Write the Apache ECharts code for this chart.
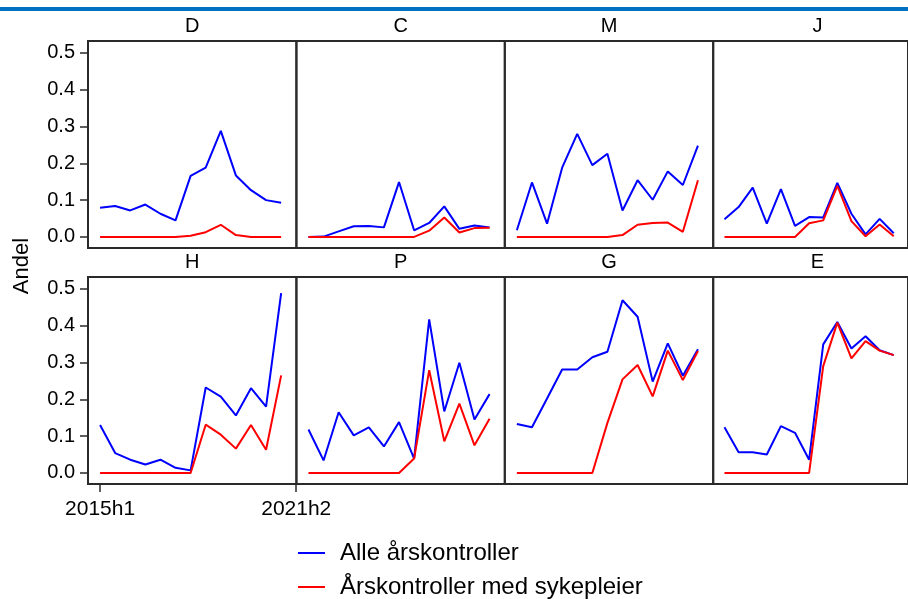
<!DOCTYPE html>
<html>
<head>
<meta charset="utf-8">
<script src="https://cdn.jsdelivr.net/npm/echarts@6/dist/echarts.min.js"></script>
<style>
  html, body { margin: 0; padding: 0; background: #fff; }
  #chart { width: 908px; height: 599px; }
</style>
</head>
<body>
<div id="chart"></div>
<script>
// Half-year periods on the x axis (data runs through 2021h1)
const periods = ['2015h1','2015h2','2016h1','2016h2','2017h1','2017h2','2018h1',
                 '2018h2','2019h1','2019h2','2020h1','2020h2','2021h1','2021h2'];
const xTickLabels = ['2015h1', '2021h2'];
const yTickValues = [0, 0.1, 0.2, 0.3, 0.4, 0.5];
const panelNames = ['D', 'C', 'M', 'J', 'H', 'P', 'G', 'E'];
const seriesNames = ['Alle årskontroller', 'Årskontroller med sykepleier'];

// Share of annual check-ups, all vs. with nurse, per unit
const alle_D = [0.079,0.084,0.072,0.088,0.063,0.045,0.166,0.188,0.288,0.167,0.127,0.100,0.093];
const syk_D  = [0,0,0,0,0,0,0.003,0.013,0.033,0.005,0,0,0];
const alle_C = [0,0.001,0.015,0.029,0.030,0.026,0.149,0.018,0.038,0.083,0.022,0.031,0.026];
const syk_C  = [0,0,0,0,0,0,0,0,0.017,0.053,0.012,0.024,0.025];
const alle_M = [0.018,0.148,0.036,0.188,0.280,0.195,0.226,0.072,0.154,0.101,0.178,0.141,0.248];
const syk_M  = [0,0,0,0,0,0,0,0.005,0.033,0.038,0.039,0.014,0.154];
const alle_J = [0.048,0.081,0.134,0.036,0.130,0.030,0.054,0.053,0.147,0.063,0.007,0.049,0.010];
const syk_J  = [0,0,0,0,0,0,0.037,0.045,0.139,0.043,0.002,0.034,0.002];
const alle_H = [0.130,0.054,0.036,0.023,0.036,0.014,0.007,0.232,0.207,0.156,0.230,0.180,0.488];
const syk_H  = [0,0,0,0,0,0,0,0.131,0.104,0.066,0.130,0.063,0.265];
const alle_P = [0.118,0.034,0.165,0.102,0.124,0.072,0.138,0.039,0.417,0.167,0.299,0.145,0.214];
const syk_P  = [0,0,0,0,0,0,0,0.039,0.279,0.086,0.188,0.075,0.147];
const alle_G = [0.133,0.124,0.202,0.281,0.281,0.314,0.329,0.469,0.424,0.248,0.352,0.264,0.336];
const syk_G  = [0,0,0,0,0,0,0.136,0.254,0.293,0.208,0.332,0.252,0.331];
const alle_E = [0.124,0.056,0.056,0.050,0.127,0.109,0.036,0.349,0.410,0.338,0.371,0.333,0.320];
const syk_E  = [0,0,0,0,0,0,0,0.290,0.408,0.311,0.358,0.332,0.320];

const panelData = {
  D: [alle_D, syk_D], C: [alle_C, syk_C], M: [alle_M, syk_M], J: [alle_J, syk_J],
  H: [alle_H, syk_H], P: [alle_P, syk_P], G: [alle_G, syk_G], E: [alle_E, syk_E]
};

const FONT = '"Liberation Sans", Arial, Helvetica, sans-serif';
const lineColors = ['#0000ff', '#ff0000'];
const frameColor = '#2a2a2a';

// Panel layout
const panelLeft0 = 88, panelW = 208.4, panelH = 207;
const rowTops = [41, 277];

const grids = [], xAxes = [], yAxes = [], series = [], titles = [];

panelNames.forEach((name, k) => {
  const row = Math.floor(k / 4), col = k % 4;
  const left = panelLeft0 + col * panelW;
  const top = rowTops[row];
  grids.push({
    left: left, top: top, width: panelW, height: panelH,
    show: true, borderColor: frameColor, borderWidth: 2, backgroundColor: 'transparent',
    containLabel: false
  });
  const showX = (row === 1 && col === 0);
  const showY = (col === 0);
  xAxes.push({
    type: 'value', gridIndex: k, min: -0.8, max: periods.length - 0.99,
    position: 'bottom',
    axisLine: { show: false, onZero: false },
    splitLine: { show: false },
    axisTick: {
      show: showX, customValues: [0, periods.length - 1], length: 8,
      lineStyle: { color: frameColor, width: 1.5 }
    },
    axisLabel: {
      show: showX, customValues: [0, periods.length - 1], margin: 15,
      fontFamily: FONT, fontSize: 21, color: '#000',
      formatter: v => xTickLabels[v === 0 ? 0 : 1]
    }
  });
  yAxes.push({
    type: 'value', gridIndex: k, min: -0.03, max: 0.532,
    position: 'left',
    axisLine: { show: false, onZero: false },
    splitLine: { show: false },
    axisTick: {
      show: showY, customValues: yTickValues, length: 8,
      lineStyle: { color: frameColor, width: 1.5 }
    },
    axisLabel: {
      show: showY, customValues: yTickValues, margin: 13,
      fontFamily: FONT, fontSize: 20, color: '#000',
      formatter: v => v.toFixed(1)
    }
  });
  titles.push({
    text: name, left: left + panelW / 2, top: top - 25, textAlign: 'center',
    padding: 0,
    textStyle: { fontFamily: FONT, fontSize: 20, fontWeight: 'normal', color: '#000' }
  });
  panelData[name].forEach((vals, s) => {
    series.push({
      type: 'line', name: seriesNames[s], xAxisIndex: k, yAxisIndex: k,
      data: vals.map((v, i) => [i, v]),
      symbol: 'none', silent: true,
      lineStyle: { color: lineColors[s], width: 2 },
      itemStyle: { color: lineColors[s] },
      z: 2 + s
    });
  });
});

const chart = echarts.init(document.getElementById('chart'), null, { renderer: 'canvas' });
chart.setOption({
  animation: false,
  backgroundColor: '#fff',
  title: titles,
  grid: grids,
  xAxis: xAxes,
  yAxis: yAxes,
  series: series,
  legend: {
    data: seriesNames.map(n => ({ name: n, icon: 'rect' })),
    orient: 'vertical', left: 298, top: 541, padding: 0,
    itemWidth: 27, itemHeight: 2, itemGap: 10,
    textStyle: { fontFamily: FONT, fontSize: 24, color: '#000', lineHeight: 24, padding: [0, 0, 0, 10] }
  },
  graphic: [
    { type: 'rect', left: 0, top: 7, shape: { width: 908, height: 4 },
      style: { fill: '#0070c0' }, silent: true },
    { type: 'text', x: 22, y: 266, rotation: Math.PI / 2,
      style: { text: 'Andel', fontFamily: FONT, fontSize: 22, fill: '#000',
               align: 'center', verticalAlign: 'middle' }, silent: true }
  ]
});
</script>
</body>
</html>
